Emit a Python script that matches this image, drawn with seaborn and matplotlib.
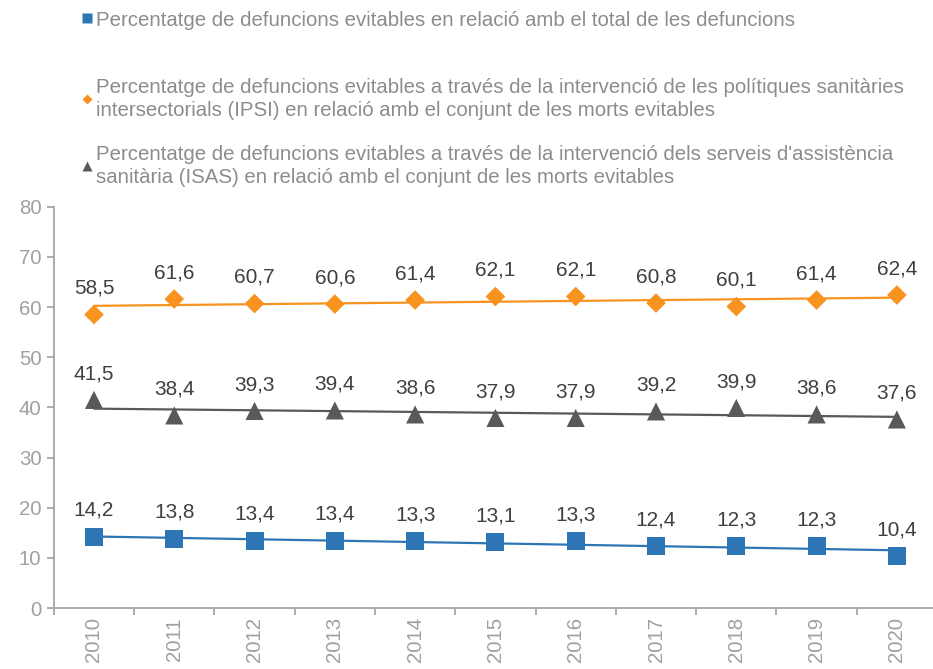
"""Defuncions evitables 2010-2020: percentatges amb línia de tendència."""

import numpy as np
import pandas as pd
import matplotlib
matplotlib.use("Agg")
import matplotlib.pyplot as plt
from matplotlib.lines import Line2D
import seaborn as sns

years = [2010, 2011, 2012, 2013, 2014, 2015, 2016, 2017, 2018, 2019, 2020]
total_pct = [14.2, 13.8, 13.4, 13.4, 13.3, 13.1, 13.3, 12.4, 12.3, 12.3, 10.4]
ipsi_pct = [58.5, 61.6, 60.7, 60.6, 61.4, 62.1, 62.1, 60.8, 60.1, 61.4, 62.4]
isas_pct = [41.5, 38.4, 39.3, 39.4, 38.6, 37.9, 37.9, 39.2, 39.9, 38.6, 37.6]

labels = [
    "Percentatge de defuncions evitables en relació amb el total de les defuncions",
    "Percentatge de defuncions evitables a través de la intervenció de les polítiques sanitàries\n"
    "intersectorials (IPSI) en relació amb el conjunt de les morts evitables",
    "Percentatge de defuncions evitables a través de la intervenció dels serveis d'assistència\n"
    "sanitària (ISAS) en relació amb el conjunt de les morts evitables",
]

sns.set_theme(style="white")
plt.rcParams["font.family"] = ["Liberation Sans", "DejaVu Sans"]

axis_grey = "#A6A6A6"
tick_grey = "#A0A0A0"
text_grey = "#8C8C8C"
label_dark = "#404040"
FS = 14.7

series = [
    (total_pct, "#2E75B6", "s", 170),
    (ipsi_pct, "#F7931E", "D", 100),
    (isas_pct, "#595959", "^", 170),
]

fig = plt.figure(figsize=(9.33, 6.69), dpi=100)
ax = fig.add_axes([0.0577, 0.091, 0.9466, 0.600])

idx = np.arange(len(years))
for (vals, color, marker, size) in series:
    df = pd.DataFrame({"i": idx, "v": vals})
    sns.regplot(data=df, x="i", y="v", scatter=False, ci=None, truncate=True,
                line_kws={"color": color, "lw": 1.6}, ax=ax)
    sns.scatterplot(data=df, x="i", y="v", marker=marker, s=size, color=color,
                    edgecolor="none", ax=ax, zorder=3)
    for i, v in zip(idx, vals):
        ax.annotate(f"{v:.1f}".replace(".", ","), (i, v), xytext=(0, 19),
                    textcoords="offset points", ha="center", va="center",
                    fontsize=15, color=label_dark)

ax.set_xlim(-0.5, len(years) - 0.5)
ax.set_ylim(0, 80)
ax.set_yticks(range(0, 81, 10))
ax.set_xticks(idx)
ax.set_xticklabels([str(y) for y in years], rotation=90)
ax.set_xticks(np.arange(-0.5, len(years), 1.0), minor=True)
ax.set_xlabel("")
ax.set_ylabel("")

for side in ["top", "right"]:
    ax.spines[side].set_visible(False)
for side in ["left", "bottom"]:
    ax.spines[side].set_color(axis_grey)
    ax.spines[side].set_linewidth(1.3)

ax.tick_params(axis="y", which="major", left=True, length=5, width=1.3,
               color=axis_grey, labelsize=FS, labelcolor=tick_grey, pad=4)
ax.tick_params(axis="x", which="major", bottom=False, length=0, labelsize=FS,
               labelcolor=tick_grey, pad=6.5)
ax.tick_params(axis="x", which="minor", bottom=True, length=5, width=1.3,
               color=axis_grey)

# legend entries, one per block as in the original
anchors = [0.970, 0.852, 0.752]
for (vals, color, marker, size), lab, yy in zip(series, labels, anchors):
    h = Line2D([], [], linestyle="none", marker=marker, color=color,
               markersize=6.5 if marker != "D" else 5.5, markeredgecolor="none")
    leg = fig.legend(handles=[h], labels=[lab], loc="center left",
                     bbox_to_anchor=(0.089, yy), frameon=False, fontsize=FS,
                     handlelength=0.4, handletextpad=0.25, borderpad=0,
                     borderaxespad=0)
    for t in leg.get_texts():
        t.set_color(text_grey)
        t.set_linespacing(1.3)
    # marker sits on the first text line, like the original
    for row in leg._legend_handle_box.get_children():
        row.align = "top"

fig.savefig("out.png", dpi=100)
